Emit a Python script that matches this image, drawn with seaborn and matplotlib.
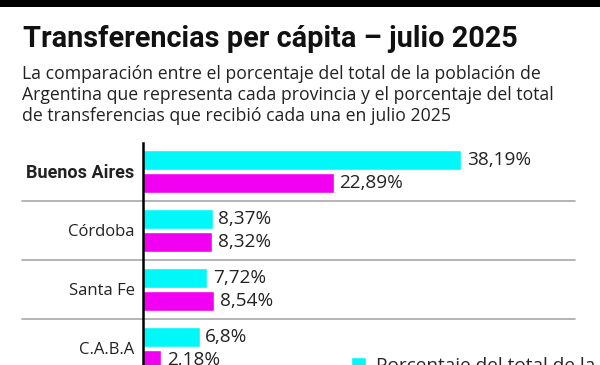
import matplotlib
matplotlib.use('Agg')
import matplotlib.pyplot as plt
import seaborn as sns
import pandas as pd
from matplotlib.patches import Rectangle

# datos
provincias = ['Buenos Aires', 'Córdoba', 'Santa Fe', 'C.A.B.A']
poblacion = [38.19, 8.37, 7.72, 6.8]
transferencias = [22.89, 8.32, 8.54, 2.18]
series = ['Porcentaje del total de la población',
          'Porcentaje del total de transferencias']
colores = ['#00F8F8', '#F200F2']

df = pd.DataFrame({
    'provincia': provincias * 2,
    'valor': poblacion + transferencias,
    'serie': [series[0]] * len(provincias) + [series[1]] * len(provincias),
})

sns.set_theme(style='white')
plt.rcParams['font.family'] = ['Open Sans', 'DejaVu Sans']

W, H = 600, 365
fig = plt.figure(figsize=(W / 100, H / 100), dpi=100)

# barra negra superior
fig.add_artist(Rectangle((0, 1 - 7 / H), 1, 7 / H, transform=fig.transFigure,
                         color='black', lw=0))

# título y bajada
fig.text(23 / W, 1 - 47 / H, 'Transferencias per cápita – julio 2025',
         fontsize=20.8, fontweight='bold', va='baseline', ha='left',
         color='#111111', family=['Roboto', 'DejaVu Sans'])
subtitulo = ['La comparación entre el porcentaje del total de la población de',
             'Argentina que representa cada provincia y el porcentaje del total',
             'de transferencias que recibió cada una en julio 2025']
for i, linea in enumerate(subtitulo):
    fig.text(22 / W, 1 - (79 + 21 * i) / H, linea, fontsize=12.7,
             va='baseline', ha='left', color='#222222')

# eje de barras
ax = fig.add_axes([143 / W, 0, 432 / W, (H - 143) / H])
sns.barplot(data=df, y='provincia', x='valor', hue='serie', hue_order=series,
            palette=colores, orient='h', width=0.78, gap=0.13,
            saturation=1, legend=False, ax=ax)

escala = 8.33  # px por punto porcentual
ax.set_xlim(0, 432 / escala)
ax.set_ylim(3.28, -0.483)
ax.set_xlabel('')
ax.set_ylabel('')
ax.set_xticks([])

for c, vals in zip(ax.containers, [poblacion, transferencias]):
    etiquetas = [f'{v:g}'.replace('.', ',') + '%' for v in vals]
    ax.bar_label(c, labels=etiquetas, padding=4, fontsize=13.7, color='#222222')

ax.tick_params(axis='y', length=0, pad=6, labelsize=12, labelcolor='#222222')
bold = ax.get_yticklabels()[0]
bold.set_fontweight('bold')
bold.set_family(['Roboto', 'DejaVu Sans'])
bold.set_fontsize(13)

for s in ['top', 'right', 'bottom']:
    ax.spines[s].set_visible(False)
ax.spines['left'].set_color('black')
ax.spines['left'].set_linewidth(1.8)
ax.spines['left'].set_zorder(5)

# separadores entre provincias
for y in [0.5, 1.5, 2.5]:
    ax.plot([-(143 - 22) / 432, 1], [y, y], transform=ax.get_yaxis_transform(),
            color='#a8a8a8', lw=1.2, clip_on=False, zorder=1)

ax.legend(handles=ax.containers, labels=series, loc='upper left',
          bbox_to_anchor=(351 / W, 1 - 357 / H), bbox_transform=fig.transFigure,
          frameon=False, borderaxespad=0, borderpad=0, fontsize=13.7,
          handlelength=0.8, handleheight=0.8, handletextpad=0.5)

fig.savefig('out.png', dpi=100)
